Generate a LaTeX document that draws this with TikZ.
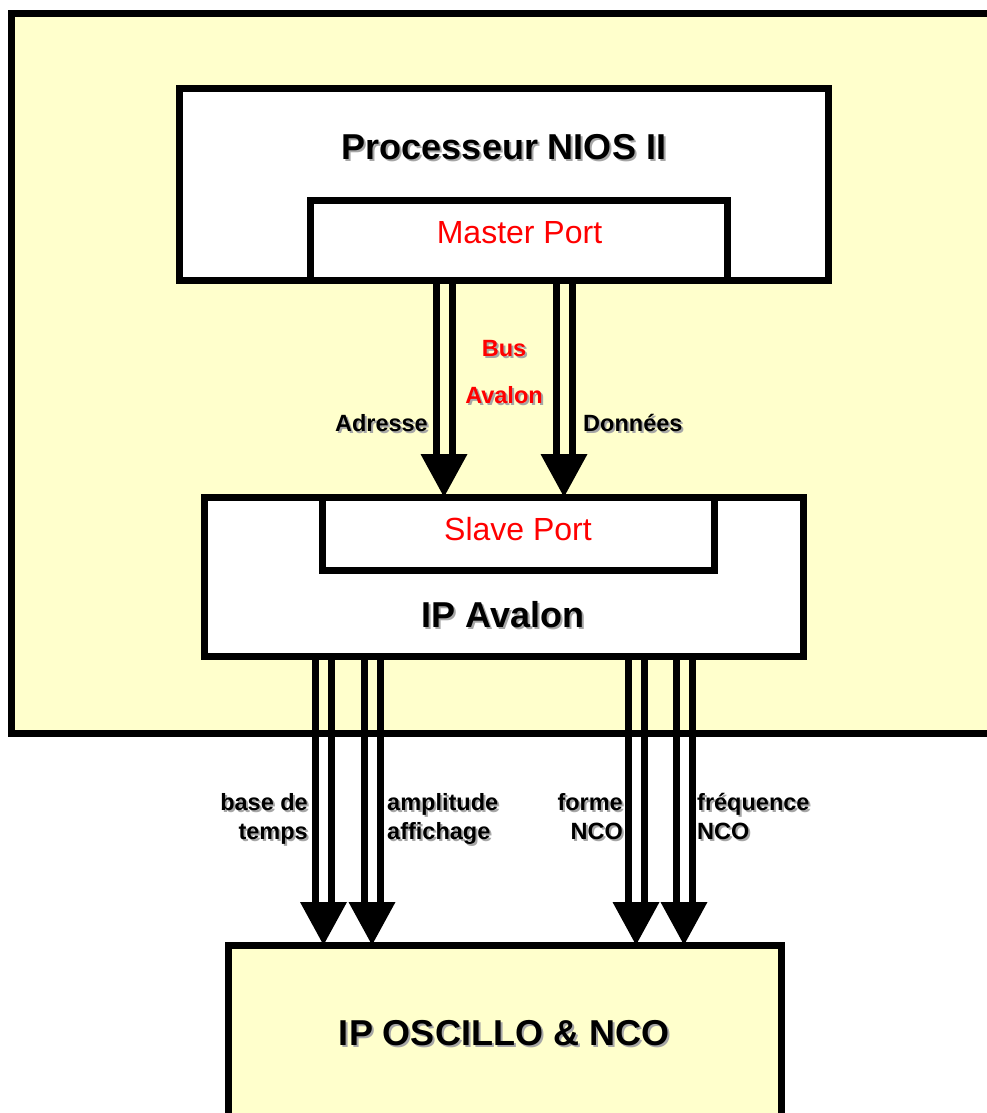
\documentclass[tikz,border=0pt]{standalone}
\usepackage{fontspec}
\setmainfont{Liberation Sans}
\usetikzlibrary{positioning}
\definecolor{pale}{HTML}{FFFFCC}
\newcommand{\shadowed}[2][black]{\makebox[0pt][l]{\hspace{2pt}\raisebox{-2pt}{\textcolor{black!35}{#2}}}\textcolor{#1}{#2}}
\newcommand{\bus}[3]{%
  \draw[wire] ([xshift=-8pt]#1 |- #2.south) -- ([xshift=-8pt,yshift=43pt]#1 |- #3.north);
  \draw[wire] ([xshift=8pt]#1 |- #2.south) -- ([xshift=8pt,yshift=43pt]#1 |- #3.north);
  \fill ([xshift=-23.5pt,yshift=43pt]#1 |- #3.north) -- ([xshift=23.5pt,yshift=43pt]#1 |- #3.north) -- (#1 |- #3.north) -- cycle;
}
\tikzset{
  box/.style={draw, line width=7pt, anchor=north west, outer sep=0pt, inner sep=0pt},
  wire/.style={line width=7pt},
  title/.style={font=\bfseries\fontsize{36}{40}\selectfont, anchor=base, inner sep=0pt},
  port/.style={text=red, font=\fontsize{32}{36}\selectfont, anchor=base, inner sep=0pt},
  sig/.style={font=\bfseries\fontsize{23.5}{29}\selectfont, inner sep=0pt},
}
\begin{document}
\begin{tikzpicture}[x=1pt, y=-1pt]
  \useasboundingbox (0,0) rectangle (987,1113);
  \clip (0,0) rectangle (987,1113);
  \fill[white] (0,0) rectangle (987,1113);
  \node[box, fill=pale, minimum width=990pt, minimum height=720pt] (fpga) at (11.5,13.5) {};
  \node[box, fill=white, minimum width=648.5pt, minimum height=191.5pt] (proc) at (179.5,88.5) {};
  \node[box, fill=white, minimum width=417pt, minimum height=79.5pt] (master) at (310,200.5) {};
  \node[box, fill=white, minimum width=599.5pt, minimum height=159pt] (avalon) at (204,497) {};
  \node[box, fill=white, minimum width=391.5pt, minimum height=73.5pt] (slave) at (322.5,497) {};
  \node[box, fill=pale, minimum width=553pt, minimum height=200pt] (oscillo) at (228,945) {};
  \node[title] (proct) at (504,159) {\shadowed{Processeur NIOS II}};
  \node[port] (mastert) at (519.5,243) {Master Port};
  \node[port] (slavet) at (518,540) {Slave Port};
  \node[title] (avalont) at (503,627) {\shadowed{IP Avalon}};
  \node[title] (oscillot) at (504,1045) {\shadowed{IP OSCILLO \& NCO}};
  \coordinate (adr) at (444,0);
  \coordinate (don) at (564,0);
  \coordinate (tb) at (323.5,0);
  \coordinate (ampl) at (372,0);
  \coordinate (forme) at (636,0);
  \coordinate (freq) at (684,0);
  \foreach \c/\s/\t in {adr/master/slave, don/master/slave, tb/avalon/oscillo,
    ampl/avalon/oscillo, forme/avalon/oscillo, freq/avalon/oscillo}
    {\bus{\c}{\s}{\t}}
  \node[sig, align=center, anchor=base, font=\bfseries\fontsize{23.5}{47}\selectfont] (busl) at (504,403)
    {\shadowed[red]{Bus}\\\shadowed[red]{Avalon}};
  \node[sig, anchor=base east] (adrl) at (428,431) {\shadowed{Adresse}};
  \node[sig, anchor=base west] (donl) at (583,431) {\shadowed{Données}};
  \node[sig, align=right, anchor=base east] (tbl) at (308,839) {\shadowed{base de}\\\shadowed{temps}};
  \node[sig, align=left, anchor=base west] (ampll) at (387,839) {\shadowed{amplitude}\\\shadowed{affichage}};
  \node[sig, align=right, anchor=base east] (formel) at (623,839) {\shadowed{forme}\\\shadowed{NCO}};
  \node[sig, align=left, anchor=base west] (freql) at (697,839) {\shadowed{fréquence}\\\shadowed{NCO}};
\end{tikzpicture}
\end{document}
